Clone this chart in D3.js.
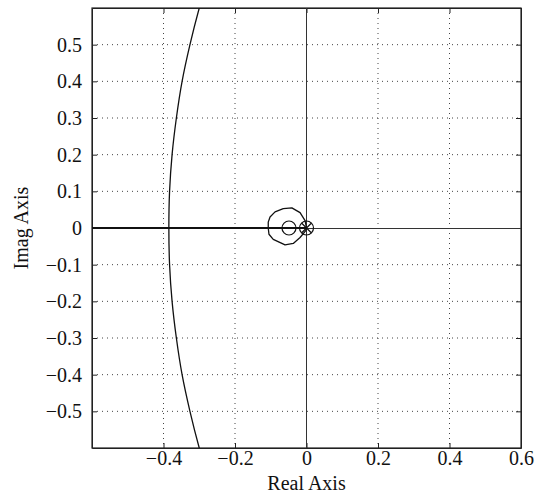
<!DOCTYPE html>
<html>
<head>
<meta charset="utf-8">
<script src="https://cdn.jsdelivr.net/npm/d3@7"></script>
<style>
body { margin: 0; background: #fff; }
svg text { font-family: "Liberation Serif", "Times New Roman", Times, serif !important; }
</style>
</head>
<body>
<svg></svg>
<script>
// ticks and labels
const xTicks = [-0.4, -0.2, 0, 0.2, 0.4, 0.6];
const yTicks = [-0.5, -0.4, -0.3, -0.2, -0.1, 0, 0.1, 0.2, 0.3, 0.4, 0.5];

// locus branches (real, imag)
const bigArc = [
	[-0.285, 0.65], [-0.300, 0.6], [-0.326, 0.5], [-0.348, 0.4], [-0.364, 0.3],
	[-0.376, 0.2], [-0.383, 0.1], [-0.385, 0], [-0.383, -0.1], [-0.376, -0.2],
	[-0.364, -0.3], [-0.348, -0.4], [-0.326, -0.5], [-0.300, -0.6], [-0.285, -0.65]
];
const loop = [
	[0, 0], [-0.004, 0.020], [-0.018, 0.042], [-0.041, 0.055], [-0.065, 0.053],
	[-0.088, 0.044], [-0.102, 0.030], [-0.107, 0.016], [-0.107, 0],
	[-0.105, -0.017], [-0.093, -0.031], [-0.060, -0.046], [-0.037, -0.042],
	[-0.018, -0.026], [-0.002, -0.007], [0, 0]
];
const realBranch = [[-0.6, 0], [0, 0]];
const zeros = [[-0.049, 0], [0, 0]];
const poles = [[0, 0]];

const width = 543;
const height = 493;
const margin = {left: 92, right: 22, top: 8, bottom: 45};
const fontSize = 20;

const svg = d3.select('svg')
	.attr('width', width)
	.attr('height', height);

const x = d3.scaleLinear().domain([-0.6, 0.6]).range([margin.left, width - margin.right]);
const y = d3.scaleLinear().domain([-0.6, 0.6]).range([height - margin.bottom, margin.top]);

svg.append('clipPath').attr('id', 'clip')
	.append('rect')
		.attr('x', x(-0.6)).attr('y', y(0.6))
		.attr('width', x(0.6) - x(-0.6)).attr('height', y(-0.6) - y(0.6));

// grid
const grid = svg.append('g')
	.attr('stroke', '#444')
	.attr('stroke-width', 1)
	.attr('stroke-dasharray', '1,4');
grid.selectAll('.gx')
	.data(xTicks.filter(d => d !== 0 && d !== 0.6))
	.enter().append('line')
		.attr('x1', d => x(d)).attr('x2', d => x(d))
		.attr('y1', y(0.6)).attr('y2', y(-0.6));
grid.selectAll('.gy')
	.data(yTicks.filter(d => d !== 0))
	.enter().append('line')
		.attr('x1', x(-0.6)).attr('x2', x(0.6))
		.attr('y1', d => y(d)).attr('y2', d => y(d));

// axes
const xAxis = svg.append('g')
	.attr('transform', `translate(0,${y(-0.6)})`)
	.call(d3.axisBottom(x).tickValues(xTicks).tickSizeInner(-5).tickSizeOuter(0).tickPadding(3).tickFormat(d3.format('')));
const yAxis = svg.append('g')
	.attr('transform', `translate(${x(-0.6)},0)`)
	.call(d3.axisLeft(y).tickValues(yTicks).tickSizeInner(-5).tickSizeOuter(0).tickPadding(10).tickFormat(d3.format('')));
svg.append('g')
	.attr('transform', `translate(0,${y(0.6)})`)
	.call(d3.axisTop(x).tickValues(xTicks).tickSizeInner(-5).tickSizeOuter(0).tickFormat(''));
svg.append('g')
	.attr('transform', `translate(${x(0.6)},0)`)
	.call(d3.axisRight(y).tickValues(yTicks).tickSizeInner(-5).tickSizeOuter(0).tickFormat(''));

svg.selectAll('.domain').attr('stroke', '#222');
svg.selectAll('.tick line').attr('stroke', '#222');
[xAxis, yAxis].forEach(a => a
	.attr('font-family', null)
	.attr('font-size', null)
	.selectAll('text')
		.style('font-size', fontSize + 'px')
		.attr('fill', '#111'));

// box
svg.append('rect')
	.attr('x', x(-0.6)).attr('y', y(0.6))
	.attr('width', x(0.6) - x(-0.6)).attr('height', y(-0.6) - y(0.6))
	.attr('fill', 'none').attr('stroke', '#222').attr('stroke-width', 1.2);

// real / imag axis lines
svg.append('line')
	.attr('x1', x(-0.6)).attr('x2', x(0.6))
	.attr('y1', y(0)).attr('y2', y(0))
	.attr('stroke', '#333').attr('stroke-width', 1)
	.attr('shape-rendering', 'crispEdges');
svg.append('line')
	.attr('x1', x(0)).attr('x2', x(0))
	.attr('y1', y(0.6)).attr('y2', y(-0.6))
	.attr('stroke', '#333').attr('stroke-width', 1)
	.attr('shape-rendering', 'crispEdges');

const plot = svg.append('g').attr('clip-path', 'url(#clip)');

plot.append('path')
	.attr('d', d3.line().x(d => x(d[0])).y(d => y(d[1])).curve(d3.curveCatmullRom)(bigArc))
	.attr('fill', 'none').attr('stroke', '#111').attr('stroke-width', 1.3);
plot.append('path')
	.attr('d', d3.line().x(d => x(d[0])).y(d => y(d[1]))(loop))
	.attr('fill', 'none').attr('stroke', '#111').attr('stroke-width', 1.3).attr('stroke-linejoin', 'round');
plot.append('path')
	.attr('d', d3.line().x(d => x(d[0])).y(d => y(d[1]))(realBranch))
	.attr('fill', 'none').attr('stroke', '#111').attr('stroke-width', 1.8);

// markers
plot.selectAll('.zero')
	.data(zeros)
	.enter().append('circle')
		.attr('cx', d => x(d[0])).attr('cy', d => y(d[1]))
		.attr('r', 7)
		.attr('fill', 'none').attr('stroke', '#111').attr('stroke-width', 1.2);
poles.forEach(p => {
	const cx = x(p[0]), cy = y(p[1]), s = 5;
	plot.append('path')
		.attr('d', `M${cx - s},${cy - s}L${cx + s},${cy + s}M${cx - s},${cy + s}L${cx + s},${cy - s}`)
		.attr('stroke', '#111').attr('stroke-width', 1.2);
});

// axis titles
svg.append('text')
	.attr('x', (x(-0.6) + x(0.6)) / 2).attr('y', 490)
	.attr('text-anchor', 'middle').style('font-size', fontSize + 'px').attr('fill', '#111')
	.text('Real Axis');
svg.append('text')
	.attr('transform', `translate(28,${y(0)}) rotate(-90)`)
	.attr('text-anchor', 'middle').style('font-size', fontSize + 'px').attr('fill', '#111')
	.text('Imag Axis');
</script>
</body>
</html>
